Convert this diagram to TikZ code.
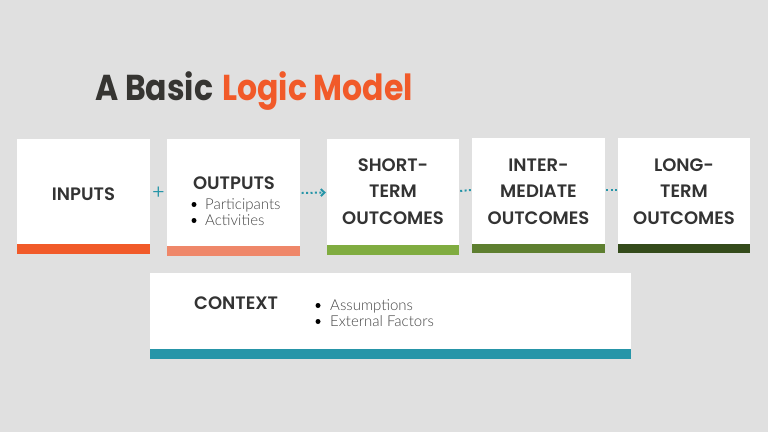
\documentclass[tikz,border=0pt]{standalone}
\usepackage{fontspec}
\setmainfont{Poppins}
\newfontfamily\hfont{Poppins SemiBold}
\newfontfamily\tfont{Poppins Bold}
\newfontfamily\lfont{Lato Light}
\newfontfamily\pfont{Poppins Light}
\usetikzlibrary{arrows.meta}
\definecolor{bg}{HTML}{E0E0E0}
\definecolor{titledark}{HTML}{363532}
\definecolor{lorange}{HTML}{F15A29}
\definecolor{lsalmon}{HTML}{EF8769}
\definecolor{lgreenA}{HTML}{80AC40}
\definecolor{lgreenB}{HTML}{5E7F30}
\definecolor{lgreenC}{HTML}{344B1B}
\definecolor{lteal}{HTML}{2695A8}
\definecolor{txtdark}{HTML}{333333}
\definecolor{txtgray}{HTML}{444444}
\begin{document}
\begin{tikzpicture}[x=1pt,y=-1pt,
  card/.style={fill=white,draw=none,inner sep=0pt},
  head/.style={font=\hfont\fontsize{18}{26.5}\selectfont,text=txtdark,align=center,inner sep=0pt},
  item/.style={font=\lfont\fontsize{15}{16}\selectfont,text=txtgray,inner sep=0pt,anchor=base west},
  dot/.style={fill=black,circle,inner sep=0pt,minimum size=5pt},
  link/.style={lteal,line width=2pt,dash pattern=on 2pt off 2.4pt}
]
\useasboundingbox (0,0) rectangle (768,432);
\fill[bg] (0,0) rectangle (768,432);
% title
\node[anchor=base west,inner sep=0pt,font=\tfont\fontsize{36}{40}\selectfont] (title) at (95,100)
  {\scalebox{0.875}[1]{\textcolor{titledark}{A Basic}\hspace{3pt} \textcolor{lorange}{Logic Model}}};
% cards
\node[card,minimum width=133pt,minimum height=105pt] (inputs) at (83.5,191.5) {};
\fill[lorange] (17,244) rectangle (150,254);
\node[card,minimum width=133pt,minimum height=107pt] (outputs) at (233.5,192.5) {};
\fill[lsalmon] (167,246) rectangle (300,256);
\node[card,minimum width=132pt,minimum height=106pt] (short) at (393,192) {};
\fill[lgreenA] (327,245) rectangle (459,255);
\node[card,minimum width=133pt,minimum height=106pt] (inter) at (538.5,191) {};
\fill[lgreenB] (472,244) rectangle (605,253);
\node[card,minimum width=132pt,minimum height=106pt] (long) at (684,191) {};
\fill[lgreenC] (618,244) rectangle (750,253);
\node[card,minimum width=481pt,minimum height=76pt] (context) at (390.5,311) {};
\fill[lteal] (150,349) rectangle (631,359);
% texts
\node[head,anchor=base] (tin) at (83.5,200) {INPUTS};
\node[head,anchor=base] (tout) at (234,189) {OUTPUTS};
\node[dot] (d1) at (194,204.5) {};
\node[item] (p1) at (205,209) {Participants};
\node[dot] (d2) at (194,220.5) {};
\node[item] (p2) at (205,225) {Activities};
\node[head,anchor=base] (tshort) at (393,224) {SHORT-\\TERM\\OUTCOMES};
\node[head,anchor=base] (tinter) at (538.5,224) {INTER-\\MEDIATE\\OUTCOMES};
\node[head,anchor=base] (tlong) at (684,224) {LONG-\\TERM\\OUTCOMES};
\node[head,anchor=base west] (tctx) at (194,309) {CONTEXT};
\node[dot] (d3) at (318,305.5) {};
\node[item] (c1) at (330,310) {Assumptions};
\node[dot] (d4) at (318,321.5) {};
\node[item] (c2) at (330,326) {External Factors};
% connectors
\node[text=lteal,font=\pfont\fontsize{20}{20}\selectfont,inner sep=0pt] (plus) at (158.5,193) {+};
\draw[link,-{Straight Barb[length=3.5pt,width=7pt,line width=2pt]}] ([yshift=-0.5pt,xshift=1.5pt]outputs.east) -- ([yshift=-0.5pt,xshift=-1pt]short.west);
\draw[link] ([xshift=1pt,yshift=1pt]short.east) -- ([xshift=-1pt,yshift=1pt]inter.west);
\draw[link] ([xshift=1pt,yshift=1pt]inter.east) -- ([xshift=-1pt,yshift=1pt]long.west);
\end{tikzpicture}
\end{document}
